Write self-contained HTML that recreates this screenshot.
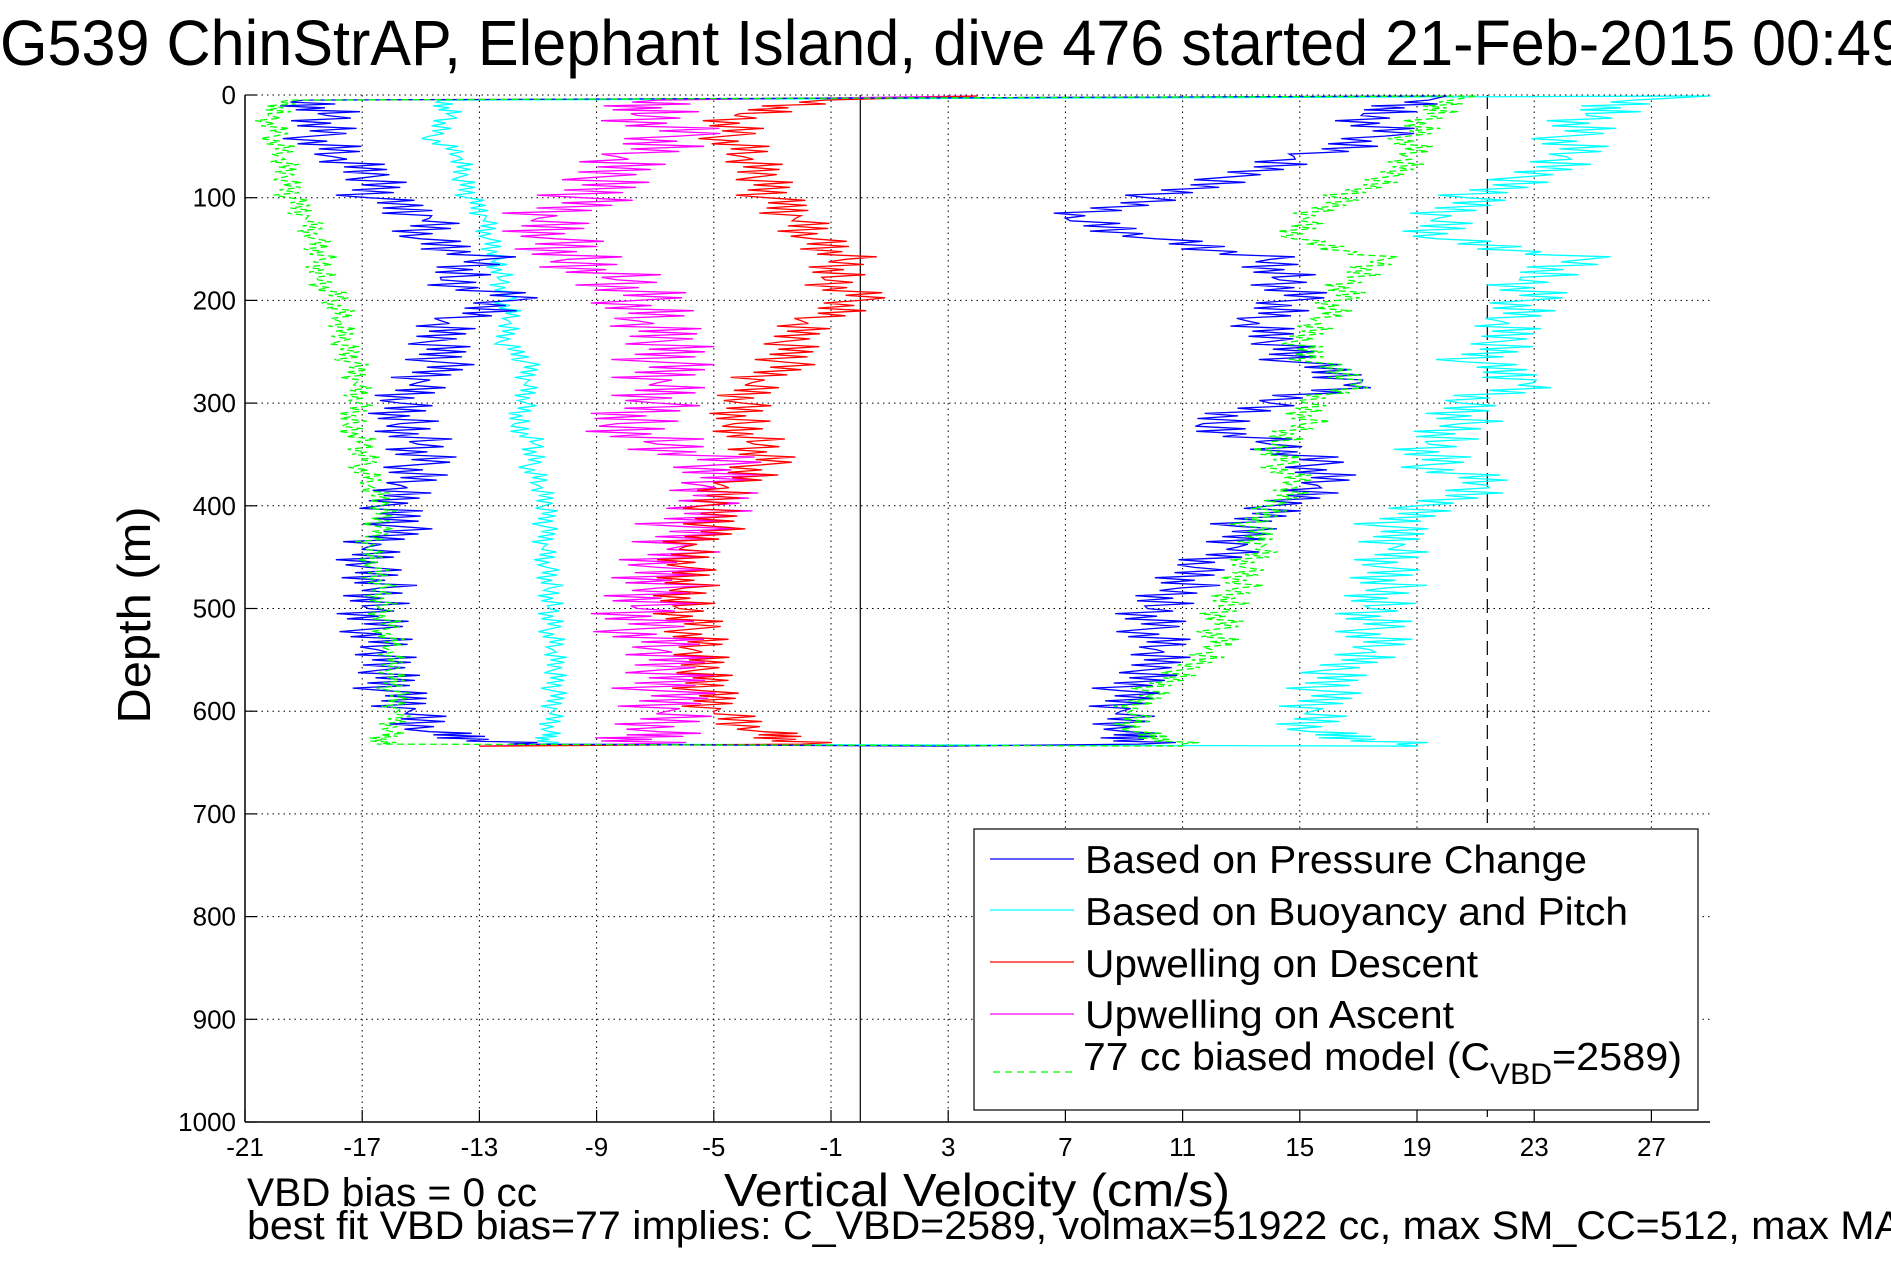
<!DOCTYPE html>
<html><head><meta charset="utf-8"><style>
html,body{margin:0;padding:0;background:#fff;}
svg{display:block;font-family:"Liberation Sans",Arial,sans-serif;}
</style></head><body>
<svg id="chart" width="1891" height="1262" viewBox="0 0 1891 1262" xmlns="http://www.w3.org/2000/svg">
<rect x="0" y="0" width="1891" height="1262" fill="#fff"/>
<text x="0" y="65" font-size="64" textLength="1905" lengthAdjust="spacingAndGlyphs">G539 ChinStrAP, Elephant Island, dive 476 started 21-Feb-2015 00:49</text>
<g id="grid"></g>
<g id="series"></g>
<g id="axes"></g>
<text transform="translate(150,615) rotate(-90)" text-anchor="middle" font-size="46" textLength="217" lengthAdjust="spacingAndGlyphs">Depth (m)</text>
<text x="724" y="1206" font-size="46" textLength="506" lengthAdjust="spacingAndGlyphs">Vertical Velocity (cm/s)</text>
<text x="247" y="1206" font-size="40" textLength="290" lengthAdjust="spacingAndGlyphs">VBD bias = 0 cc</text>
<text x="247" y="1239" font-size="40" textLength="1655" lengthAdjust="spacingAndGlyphs">best fit VBD bias=77 implies: C_VBD=2589, volmax=51922 cc, max SM_CC=512, max MA</text>
<g>
<rect x="974" y="829" width="724" height="281" fill="#fff" stroke="#000" stroke-width="1.2"/>
<line x1="990" y1="859" x2="1074" y2="859" stroke="#0000ff" stroke-width="1.3"/>
<text x="1085" y="873" font-size="39" textLength="502" lengthAdjust="spacingAndGlyphs">Based on Pressure Change</text>
<line x1="990" y1="910" x2="1074" y2="910" stroke="#00ffff" stroke-width="1.3"/>
<text x="1085" y="925" font-size="39" textLength="543" lengthAdjust="spacingAndGlyphs">Based on Buoyancy and Pitch</text>
<line x1="990" y1="962" x2="1074" y2="962" stroke="#ff0000" stroke-width="1.3"/>
<text x="1085" y="977" font-size="39" textLength="393" lengthAdjust="spacingAndGlyphs">Upwelling on Descent</text>
<line x1="990" y1="1014" x2="1074" y2="1014" stroke="#ff00ff" stroke-width="1.3"/>
<text x="1085" y="1028" font-size="39" textLength="369" lengthAdjust="spacingAndGlyphs">Upwelling on Ascent</text>
<line x1="993" y1="1072" x2="1074" y2="1072" stroke="#00ff00" stroke-width="1.3" stroke-dasharray="7,5"/>
<text x="1083" y="1070" font-size="39">
<tspan textLength="407" lengthAdjust="spacingAndGlyphs">77 cc biased model (C</tspan><tspan font-size="30" dy="14" textLength="62" lengthAdjust="spacingAndGlyphs">VBD</tspan><tspan dy="-14" textLength="130" lengthAdjust="spacingAndGlyphs">=2589)</tspan></text>
</g>
</svg>
<script>
const xTicks = [-21,-17,-13,-9,-5,-1,3,7,11,15,19,23,27];
const yTicks = [0,100,200,300,400,500,600,700,800,900,1000];
const depths = [5,20,40,60,80,100,120,140,160,180,200,220,240,260,280,300,320,340,360,380,400,420,440,460,480,500,520,540,560,580,600,620,632];
const pressureDescent = [-19,-18.2,-18.7,-18,-16.8,-16.8,-14.7,-15,-12.8,-14.3,-11.8,-14.3,-14.7,-14.4,-15.1,-15.7,-15.7,-15.1,-15.1,-15.7,-16.4,-15.8,-16.8,-16.8,-16.4,-16.8,-16.7,-16.5,-16.4,-16.2,-15.4,-14.7,-12];
const pressureAscent = [19.4,17.1,17.9,14.8,12.5,9.8,7,10.1,14,14.3,14.8,13.2,14,14.8,17.1,14,11.7,14,15.6,15.6,14,12.9,12.9,11.4,10.9,9.8,9.8,10.1,9.7,8.9,8.9,9.1,9.5];
const buoyancyDescent = [-14.3,-14,-14.7,-13.7,-13.7,-13.4,-12.8,-12.7,-12.4,-12.3,-12.1,-12,-12.3,-11.4,-11.4,-11.4,-11.8,-11.1,-11.3,-11,-10.8,-10.8,-10.8,-10.7,-10.6,-10.6,-10.6,-10.5,-10.5,-10.5,-10.5,-10.6,-10.8];
const buoyancyAscent = [26.4,24.8,24.1,24.1,22.5,20.7,19.7,19.7,24.8,22.5,22.8,21.8,21.8,20.7,23,20.5,20.5,19.4,19.4,21.4,19,17.9,18.3,17.9,17.9,17.4,17.4,17.4,15.9,15.7,15.4,15.4,18.3];
const upwellDescent = [-1.2,-4.3,-4.6,-4,-3.6,-3.2,-2.2,-1.6,-0.5,-1.2,0,-2,-2.6,-2.6,-3.7,-4,-4.3,-3.6,-3.3,-4.7,-5.4,-5,-6,-5.9,-6,-6.2,-5.7,-5.7,-5.6,-5.4,-5,-3.3,-2];
const upwellAscent = [-6.9,-7.6,-6.2,-8.3,-9,-9.5,-11,-10.4,-10,-8.3,-7.6,-7.6,-6.9,-6.9,-6.9,-6.9,-8.3,-6.9,-4.7,-5.4,-5.4,-6.2,-6.2,-6.9,-6.9,-7.6,-7.6,-6.9,-6.9,-6.9,-6.6,-6.9,-8];
const modelDescent = [-19.5,-20.2,-20,-19.8,-19.7,-19.5,-18.9,-18.6,-18.4,-18.5,-17.9,-17.8,-17.8,-17.4,-17.2,-17.1,-17.5,-17,-17,-16.8,-16.4,-16.5,-16.8,-16.6,-16.4,-16.4,-16.2,-16.1,-16.1,-16,-15.8,-16,-16.5];
const modelAscent = [20.2,19.4,18.7,18.7,17.9,16.3,15.2,14.8,17.9,16.6,16.3,15.6,14.8,15.4,17.1,15.2,15.2,14,14.3,14.8,13.9,13.2,13.7,13.1,12.9,12.3,12.2,12,10.9,9.8,9.2,9.4,10.9];
const surfaceDepth = 1;
const bottomDepth = 634;
const surfaceValues = [20, 29, 4, 21];
const bottomValues = [3, 19, -13, 11];

const L=245,R=1710,T=95,B=1122,XMIN=-21,XMAX=29,YMIN=0,YMAX=1000;
const sx=v=>L+(v-XMIN)/(XMAX-XMIN)*(R-L);
const sy=d=>T+(d-YMIN)/(YMAX-YMIN)*(B-T);
const NS='http://www.w3.org/2000/svg';
const mk=(tag,attrs,parent)=>{const e=document.createElementNS(NS,tag);for(const k in attrs)e.setAttribute(k,attrs[k]);parent.appendChild(e);return e;};
const grid=document.getElementById('grid'),axes=document.getElementById('axes'),ser=document.getElementById('series');

xTicks.forEach(t=>{
  const g=mk('line',{x1:sx(t),y1:T,x2:sx(t),y2:B,stroke:'#000','stroke-width':1,'stroke-dasharray':'1.5,4'},grid);
  
  
  const tk=mk('line',{x1:sx(t),y1:B,x2:sx(t),y2:B-12,stroke:'#000','stroke-width':1.2},axes);
  
  
  const lb=mk('text',{x:sx(t),y:1156,'text-anchor':'middle','font-size':26},axes);
  
  
  lb.textContent=t;
});
yTicks.forEach(t=>{
  const g=mk('line',{x1:L,y1:sy(t),x2:R,y2:sy(t),stroke:'#000','stroke-width':1,'stroke-dasharray':'1.5,4'},grid);
  
  
  const tk=mk('line',{x1:L,y1:sy(t),x2:L+12,y2:sy(t),stroke:'#000','stroke-width':1.2},axes);
  
  
  const lb=mk('text',{x:236,y:sy(t)+9,'text-anchor':'end','font-size':26},axes);
  
  
  lb.textContent=t;
});
const ax1=mk('line',{x1:L,y1:T,x2:L,y2:B,stroke:'#000','stroke-width':1.5},axes);


const ax2=mk('line',{x1:L,y1:B,x2:R,y2:B,stroke:'#000','stroke-width':1.5},axes);


const zl=mk('line',{x1:sx(0),y1:T,x2:sx(0),y2:B,stroke:'#000','stroke-width':1.2},ser);


const dl=mk('line',{x1:sx(21.4),y1:T,x2:sx(21.4),y2:B,stroke:'#000','stroke-width':1.2,'stroke-dasharray':'14,7'},ser);



const texture=[1,-0.5,0.8,-1,0.3,-0.7,1.2,-0.2];
function trace(vals,surf,bot,color,amp,dash,name){
  let pts=[[sx(surf),sy(surfaceDepth)]];
  const n=Math.min(vals.length,depths.length);
  for(let i=0;i<n;i++){
    pts.push([sx(vals[i]),sy(depths[i])]);
    if(i<n-1){
      for(let k=1;k<8;k++){
        const f=k/8,d=depths[i]+(depths[i+1]-depths[i])*f,v=vals[i]+(vals[i+1]-vals[i])*f+amp*texture[(k+i)%8];
        pts.push([sx(v),sy(d)]);
      }
    }
  }
  pts.push([sx(bot),sy(bottomDepth)]);
  const p=mk('polyline',{points:pts.map(q=>q[0].toFixed(1)+','+q[1].toFixed(1)).join(' '),fill:'none',stroke:color,'stroke-width':1.3},ser);
  if(dash)p.setAttribute('stroke-dasharray',dash);
  
  
}
trace(buoyancyDescent,surfaceValues[1],bottomValues[1],'#00ffff',0.4,null,'buoyancy-descent-line');
trace(buoyancyAscent,surfaceValues[1],bottomValues[1],'#00ffff',1.2,null,'buoyancy-ascent-line');
trace(upwellAscent,surfaceValues[2],bottomValues[2],'#ff00ff',1.6,null,'upwelling-ascent-line');
trace(upwellDescent,surfaceValues[2],bottomValues[2],'#ff0000',1.0,null,'upwelling-descent-line');
trace(pressureDescent,surfaceValues[0],bottomValues[0],'#0000ff',1.1,null,'pressure-descent-line');
trace(pressureAscent,surfaceValues[0],bottomValues[0],'#0000ff',1.1,null,'pressure-ascent-line');
trace(modelDescent,surfaceValues[3],bottomValues[3],'#00ff00',0.5,'7,4','model-descent-line');
trace(modelAscent,surfaceValues[3],bottomValues[3],'#00ff00',0.7,'7,4','model-ascent-line');
</script>
</body></html>
